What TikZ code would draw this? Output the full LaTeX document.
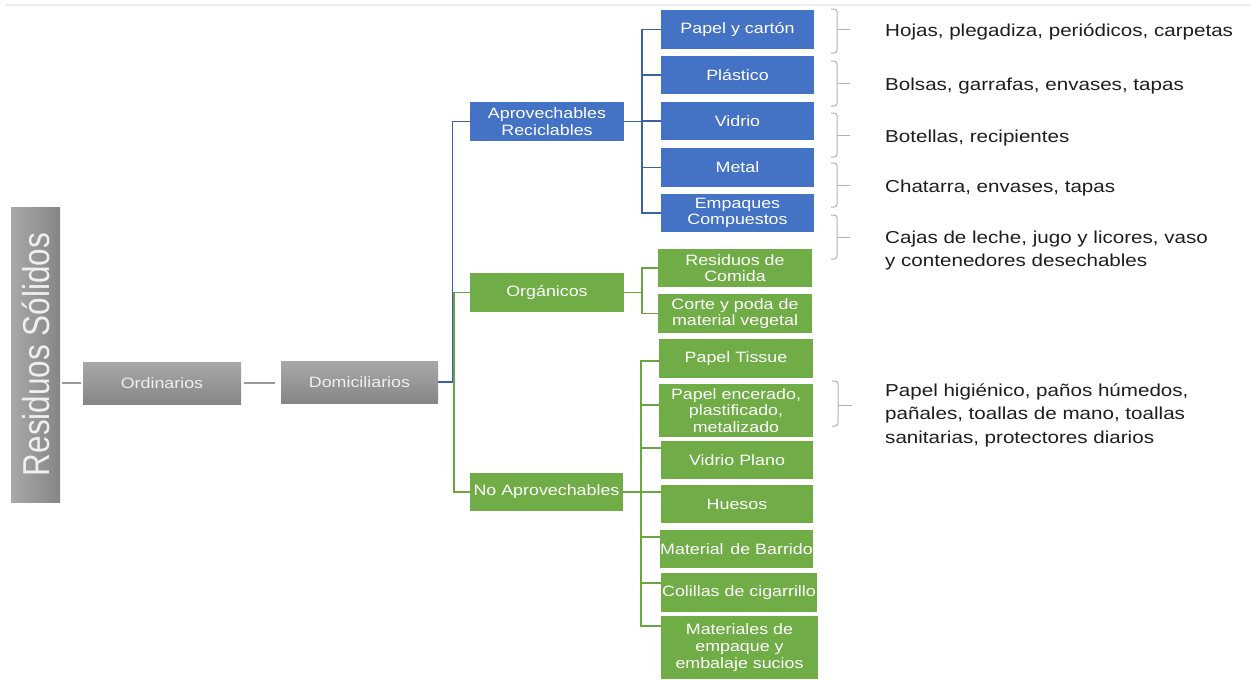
\documentclass[tikz,border=0pt]{standalone}
\usepackage{graphicx}
\usepackage{fontspec}
\setmainfont{Liberation Sans}[FakeStretch=1.19]
\newfontfamily\rsfont{Liberation Sans}
\usetikzlibrary{calc}
\definecolor{cblue}{HTML}{4472C4}
\definecolor{cgreen}{HTML}{70AD47}
\definecolor{lblue}{HTML}{3A60AA}
\definecolor{lgreen}{HTML}{6AA443}
\definecolor{gtop}{HTML}{A8A8A8}
\definecolor{gbot}{HTML}{868686}
\definecolor{gline}{HTML}{9A9A9A}
\definecolor{btxt}{HTML}{1E1E1E}
\definecolor{gtxt}{HTML}{EFEFEF}
\begin{document}
\begin{tikzpicture}[x=1pt,y=-1pt,
  box/.style={draw=none, inner sep=0pt, align=center, text=white, font=\fontsize{15}{16.7}\selectfont},
  bluebox/.style={box, fill=cblue},
  greenbox/.style={box, fill=cgreen},
  graybox/.style={box, top color=gtop, bottom color=gbot, text=gtxt},
  rsbox/.style={inner sep=0pt, left color=gtop, right color=gbot, text=gtxt},
  blueline/.style={draw=lblue, line width=1.8pt},
  greenline/.style={draw=lgreen, line width=1.8pt},
  grayline/.style={draw=gline, line width=1.8pt},
  bracec/.style={draw=gray!60, line width=1pt, rounded corners=3pt},
  note/.style={anchor=base west, inner sep=0pt, text=btxt, font=\fontsize{17.3}{23.5}\selectfont}
]
\useasboundingbox (0,0) rectangle (1251,680);
\fill[white] (0,0) rectangle (1251,680);
\draw[draw=black!7, line width=2pt] (6,5) -- (1251,5);

% gray chain
\node[rsbox, minimum width=49, minimum height=295] (rs) at (35.5,354.5)
  {\scalebox{1.19}[1]{\rotatebox{90}{\rsfont\fontsize{31.5}{31.5}\selectfont Residuos Sólidos}}};
\node[graybox, minimum width=158, minimum height=42] (ord) at (162,383) {Ordinarios};
\node[graybox, minimum width=157, minimum height=42] (dom) at (359.5,382) {Domiciliarios};

% level 2
\node[bluebox, minimum width=154, minimum height=39] (aprov) at (547,121.5) {Aprovechables\\Reciclables};
\node[greenbox, minimum width=154, minimum height=39] (org) at (547,292.5) {Orgánicos};
\node[greenbox, minimum width=153, minimum height=38] (noap) at (546.5,492) {No Aprovechables};

% blue leaves
\node[bluebox, minimum width=153, minimum height=39] (papel) at (737.5,29.5) {Papel y cartón};
\node[bluebox, minimum width=153, minimum height=38] (plast) at (737.5,75) {Plástico};
\node[bluebox, minimum width=153, minimum height=38] (vidrio) at (737.5,121) {Vidrio};
\node[bluebox, minimum width=153, minimum height=39] (metal) at (737.5,167.5) {Metal};
\node[bluebox, minimum width=153, minimum height=38] (empaq) at (737.5,213) {Empaques\\Compuestos};

% green leaves
\node[greenbox, minimum width=154, minimum height=38] (comida) at (735,268) {Residuos de\\Comida};
\node[greenbox, minimum width=154, minimum height=39] (corte) at (735,313.5) {Corte y poda de\\material vegetal};
\node[greenbox, minimum width=154, minimum height=39] (tissue) at (736,358.5) {Papel Tissue};
\node[greenbox, minimum width=154, minimum height=53] (encer) at (736,410.5) {Papel encerado,\\plastificado,\\metalizado};
\node[greenbox, minimum width=152, minimum height=38] (vplano) at (737,460) {Vidrio Plano};
\node[greenbox, minimum width=152, minimum height=38] (huesos) at (737,504) {Huesos};
\node[greenbox, minimum width=153, minimum height=38] (barrido) at (736.5,549) {Material\hspace{0.45em}de Barrido};
\node[greenbox, minimum width=156, minimum height=39] (colillas) at (739,592.5) {Colillas de cigarrillo};
\node[greenbox, minimum width=157, minimum height=63] (mater) at (739.5,647.5) {Materiales de\\empaque y\\embalaje sucios};

% gray connectors
\draw[grayline, shorten <=2pt, shorten >=2pt] (rs.east |- ord.west) -- (ord.west);
\draw[grayline, shorten <=3pt, shorten >=6pt] (ord.east) -- (ord.east -| dom.west);

% trunk
\coordinate (tb) at (452.5,382);
\coordinate (tg) at (454,382);
\draw[blueline] (dom.east) -- (tb) -- (tb |- aprov.west) -- (aprov.west);
\draw[greenline] (tg) -- (tg |- org.west) -- (org.west);
\draw[greenline] (tg) -- (tg |- noap.west) -- (noap.west);

% blue branch
\coordinate (ab) at (642,121.5);
\draw[blueline] (aprov.east) -- (ab);
\draw[blueline, line cap=rect] (ab |- papel.west) -- (ab |- empaq.west);
\foreach \n in {papel,plast,vidrio,metal,empaq}
  \draw[blueline] (ab |- \n.west) -- (\n.west);

% organic branch
\coordinate (ob) at (642,292.5);
\draw[greenline] (org.east) -- (ob);
\draw[greenline, line cap=rect] (ob |- comida.west) -- (ob |- corte.west);
\foreach \n in {comida,corte}
  \draw[greenline] (ob |- \n.west) -- (\n.west);

% non-usable branch
\coordinate (nb) at (641,492);
\draw[greenline] (noap.east) -- (nb);
\draw[greenline, line cap=rect] (641,361) -- (641,626);
\foreach \n/\yy in {tissue/361,encer/405,vplano/448,huesos/492,barrido/537,colillas/583,mater/626}
  \draw[greenline] (nb |- 0,\yy) -- (\n.west |- 0,\yy);

% braces
\foreach \ya/\ym/\yb in {9/29/53, 61/83/106, 113/135/157, 163/185/207, 215/237/259}{
  \draw[bracec] (831,\ya) -- (837,\ya) -- (837,\yb) -- (831,\yb);
  \draw[bracec] (837,\ym) -- (850,\ym);
}
\draw[bracec] (832,381) -- (838,381) -- (838,426) -- (832,426);
\draw[bracec] (838,405) -- (852,405);

% notes
\node[note] (n1) at (885,36) {Hojas, plegadiza, periódicos, carpetas};
\node[note] (n2) at (885,90) {Bolsas, garrafas, envases, tapas};
\node[note] (n3) at (885,142) {Botellas, recipientes};
\node[note] (n4) at (885,192) {Chatarra, envases, tapas};
\node[note] (n5) at (885,243) {\begin{tabular}[t]{@{}l@{}}Cajas de leche, jugo y licores, vaso\\y contenedores desechables\end{tabular}};
\node[note] (n6) at (885,396) {\begin{tabular}[t]{@{}l@{}}Papel higiénico, paños húmedos,\\pañales, toallas de mano, toallas\\sanitarias, protectores diarios\end{tabular}};
\end{tikzpicture}
\end{document}
